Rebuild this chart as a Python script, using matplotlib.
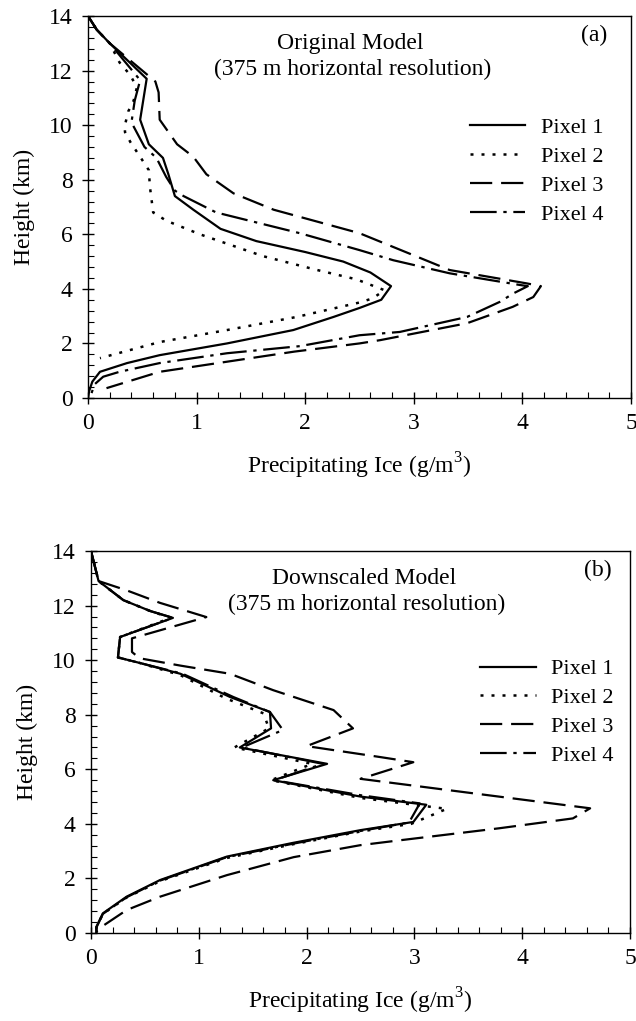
import matplotlib
matplotlib.use('Agg')
import matplotlib.pyplot as plt
from matplotlib.ticker import MultipleLocator

plt.rcParams['font.family'] = ['Liberation Serif', 'DejaVu Serif']
plt.rcParams['mathtext.fontset'] = 'custom'
plt.rcParams['mathtext.rm'] = 'Liberation Serif'

labels = ['Pixel 1', 'Pixel 2', 'Pixel 3', 'Pixel 4']

# (a) original model, ice (g/m3) and height (km)
a_p1_ice = [0.00, 0.08, 0.20, 0.54, 0.48, 0.56, 0.69, 0.74, 0.80, 0.97, 1.22, 1.55, 2.00,
            2.35, 2.60, 2.79, 2.70, 2.50, 2.26, 1.89, 1.28, 0.66, 0.36, 0.11, 0.04, 0.01,
            0.00]
a_p1_h = [14.0, 13.5, 13.0, 11.7, 10.2, 9.3, 8.8, 8.2, 7.4, 6.9, 6.2, 5.75, 5.35,
          5.0, 4.6, 4.1, 3.6, 3.3, 2.97, 2.49, 2.0, 1.57, 1.28, 0.96, 0.6, 0.25, 0.0]

a_p2_ice = [0.00, 0.08, 0.20, 0.29, 0.39, 0.45, 0.42, 0.37, 0.34, 0.34, 0.39, 0.48, 0.56,
            0.57, 0.60, 0.72, 1.03, 1.61, 2.10, 2.47, 2.73, 2.62, 2.50, 1.92, 1.28, 0.66, 0.11]
a_p2_h = [14.0, 13.5, 13.0, 12.3, 11.83, 11.38, 10.9, 10.5, 10.0, 9.75, 9.38, 8.84, 8.35,
          7.74, 6.8, 6.5, 6.0, 5.2, 4.7, 4.35, 3.95, 3.65, 3.5, 2.97, 2.49, 2.05, 1.46]

a_p3_ice = [0.00, 0.08, 0.20, 0.62, 0.65, 0.66, 0.82, 0.97, 1.09, 1.34, 1.71, 2.50, 3.33,
            4.04, 4.17, 4.10, 3.91, 3.49, 2.69, 2.50, 1.90, 1.28, 0.66, 0.17]
a_p3_h = [14.0, 13.5, 13.0, 11.6, 11.2, 10.2, 9.3, 8.84, 8.2, 7.5, 6.9, 6.04, 4.69,
          4.2, 4.1, 3.7, 3.34, 2.74, 2.12, 2.0, 1.7, 1.33, 0.96, 0.36]

a_p4_ice = [0.00, 0.08, 0.20, 0.48, 0.43, 0.40, 0.52, 0.63, 0.72, 0.80, 0.88, 1.18, 1.95,
            2.50, 2.81, 3.33, 3.98, 4.05, 3.92, 3.79, 3.49, 2.87, 2.50, 1.95, 1.28, 0.66,
            0.29, 0.14, 0.06, 0.03]
a_p4_h = [14.0, 13.5, 13.0, 11.65, 10.9, 10.1, 9.2, 8.8, 8.1, 7.6, 7.4, 6.8, 6.04,
          5.42, 5.05, 4.57, 4.14, 4.1, 3.84, 3.52, 2.97, 2.42, 2.3, 1.9, 1.64, 1.28,
          0.96, 0.78, 0.5, 0.15]

# (b) downscaled model
b_p1_ice = [0.00, 0.07, 0.30, 0.55, 0.76, 0.27, 0.25, 0.45, 0.83, 1.29, 1.66, 1.67, 1.38,
            2.19, 1.69, 2.50, 3.11, 2.99, 2.50, 1.87, 1.26, 0.64, 0.33, 0.11, 0.05, 0.05]
b_p1_h = [14.0, 12.9, 12.2, 11.8, 11.55, 10.85, 10.1, 9.9, 9.5, 8.65, 8.1, 7.5, 6.8,
          6.2, 5.6, 5.0, 4.7, 4.07, 3.77, 3.3, 2.8, 1.94, 1.33, 0.72, 0.23, 0.0]

b_p2_ice = [0.00, 0.07, 0.30, 0.55, 0.74, 0.27, 0.25, 0.45, 0.83, 1.25, 1.60, 1.65, 1.33,
            2.05, 1.67, 2.50, 3.30, 2.97, 2.50, 1.87, 1.26, 0.64, 0.33, 0.11, 0.05, 0.05]
b_p2_h = [14.0, 12.9, 12.2, 11.8, 11.55, 10.85, 10.1, 9.9, 9.45, 8.6, 8.05, 7.5, 6.8,
          6.2, 5.6, 4.95, 4.55, 4.0, 3.72, 3.25, 2.75, 1.9, 1.3, 0.7, 0.2, 0.0]

b_p3_ice = [0.00, 0.07, 0.33, 0.64, 1.07, 0.38, 0.38, 0.45, 0.83, 1.29, 1.69, 2.25, 2.43,
            2.00, 2.68, 2.99, 2.50, 4.63, 4.47, 3.79, 2.87, 2.50, 1.88, 1.26, 0.64, 0.33,
            0.08, 0.05]
b_p3_h = [14.0, 12.9, 12.56, 12.1, 11.58, 10.8, 10.3, 10.07, 9.8, 9.5, 8.9, 8.17, 7.5,
          6.85, 6.45, 6.26, 5.65, 4.57, 4.2, 3.84, 3.4, 3.22, 2.78, 2.12, 1.33, 0.84,
          0.18, 0.05]

b_p4_ice = [0.00, 0.07, 0.30, 0.55, 0.76, 0.27, 0.25, 0.45, 0.85, 1.32, 1.66, 1.78, 1.40,
            2.15, 1.70, 2.50, 3.05, 2.95, 2.50, 1.87, 1.26, 0.64, 0.33, 0.11, 0.05, 0.05]
b_p4_h = [14.0, 12.9, 12.2, 11.8, 11.55, 10.85, 10.1, 9.9, 9.5, 8.65, 8.1, 7.44, 6.8,
          6.2, 5.6, 5.05, 4.75, 4.05, 3.74, 3.27, 2.78, 1.92, 1.31, 0.7, 0.2, 0.0]

styles = [
    dict(linestyle='-', linewidth=1.6),
    dict(linestyle=(0, (1.2, 3.2)), linewidth=1.8),
    dict(linestyle=(0, (10, 4)), linewidth=1.6),
    dict(linestyle=(0, (12, 3, 1.5, 3)), linewidth=1.6),
]


def draw_panel(ax, curves, title, tag, title_x, tag_x, leg_x, leg_y):
    for (ice, h), lab, st in zip(curves, labels, styles):
        ax.plot(ice, h, color='black', label=lab, dash_capstyle='butt', **st)

    ax.set_xlim(0, 5)
    ax.set_ylim(0, 14)
    ax.xaxis.set_major_locator(MultipleLocator(1))
    ax.xaxis.set_minor_locator(MultipleLocator(0.2))
    ax.yaxis.set_major_locator(MultipleLocator(2))
    ax.yaxis.set_minor_locator(MultipleLocator(0.4))
    ax.tick_params(which='major', direction='inout', length=8, width=1.0,
                   labelsize=17, pad=7)
    ax.tick_params(which='minor', direction='in', length=4, width=0.8)
    for sp in ax.spines.values():
        sp.set_linewidth(1.0)

    ax.set_xlabel('Precipitating Ice (g/m$^3$)', fontsize=17, labelpad=12)
    ax.set_ylabel('Height (km)', fontsize=17, labelpad=10)

    ax.text(title_x, 0.929, title, transform=ax.transAxes, ha='center', va='center',
            fontsize=17)
    ax.text(title_x + 0.005, 0.859, '(375 m horizontal resolution)',
            transform=ax.transAxes, ha='center', va='center', fontsize=17)
    ax.text(tag_x, 0.948, tag, transform=ax.transAxes, ha='center', va='center',
            fontsize=17)

    ax.legend(loc='center left', bbox_to_anchor=(leg_x, leg_y), frameon=False,
              fontsize=16, handlelength=2.5, handletextpad=0.7, labelspacing=0.37,
              borderpad=0, borderaxespad=0)


def main():
    fig = plt.figure(figsize=(6.36, 10.21), dpi=100)
    ax_a = fig.add_axes([0.1384, 0.6102, 0.8538, 0.3741])
    ax_b = fig.add_axes([0.1431, 0.0862, 0.8475, 0.3741])

    draw_panel(ax_a, [(a_p1_ice, a_p1_h), (a_p2_ice, a_p2_h), (a_p3_ice, a_p3_h),
                      (a_p4_ice, a_p4_h)],
               'Original Model', '(a)', 0.482, 0.932, 0.703, 0.594)
    draw_panel(ax_b, [(b_p1_ice, b_p1_h), (b_p2_ice, b_p2_h), (b_p3_ice, b_p3_h),
                      (b_p4_ice, b_p4_h)],
               'Downscaled Model', '(b)', 0.507, 0.94, 0.722, 0.578)

    fig.savefig('out.png', dpi=100)
    plt.close(fig)


if __name__ == '__main__':
    main()
